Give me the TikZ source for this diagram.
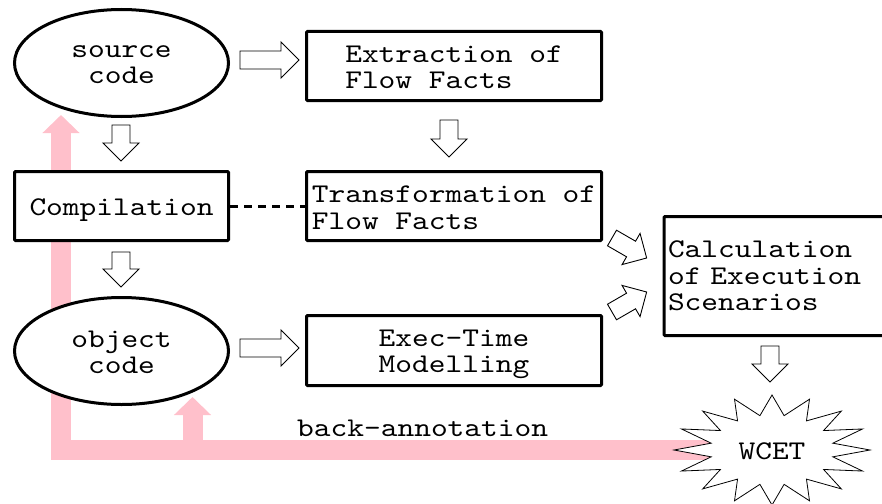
\documentclass[tikz,border=0pt]{standalone}
\usepackage{fontspec}
\newfontfamily\courfont[FakeStretch=1.18]{lmmono10-regular.otf}
\usetikzlibrary{arrows.meta,shapes.geometric}
\definecolor{pinkbar}{RGB}{255,192,203}
\newcommand{\lift}[1]{\rule{0pt}{#1pt}}
\tikzset{
  txt/.style={font=\courfont\fontsize{27}{26.5}\selectfont},
  box/.style={txt, draw, line width=3pt, fill=white, rounded corners=1pt, inner sep=0pt, align=left},
  oval/.style={txt, draw, ellipse, line width=3pt, fill=white, minimum width=214pt, minimum height=107pt, inner sep=0pt, align=center},
  hollow/.style={draw, line width=0.9pt, fill=white, line join=miter},
  back/.style={draw=pinkbar, line width=20pt, line join=miter, -{Triangle[width=36pt,length=18pt]}},
  starshape/.style={draw, line width=0.8pt, fill=white, line join=miter},
  dashline/.style={line width=3pt, dash pattern=on 8pt off 6pt},
}
\newcommand{\barrow}[3]{%
  \begin{scope}[shift={#1},rotate=#2]
    \draw[hollow] (0,9) -- ({#3-18},9) -- ({#3-18},18) -- (#3,0) -- ({#3-18},-18) -- ({#3-18},-9) -- (0,-9) -- cycle;
  \end{scope}}
\begin{document}
\begin{tikzpicture}[x=1pt,y=-1pt]
\useasboundingbox (0,0) rectangle (882,503);
% back-annotation bars
\coordinate (wc) at (772,450);
\coordinate (pcorner) at (61,450);
\coordinate (srctip) at (61,115);
\coordinate (pbranch) at (192.5,450);
\coordinate (objtip) at (192.5,397);
\draw[back] (wc) -- (pcorner) -- (srctip);
\draw[back] (pbranch) -- (objtip);
% nodes
\node[oval] (src) at (121.5,63) {\lift{15}source\\code};
\node[box, minimum width=295pt, minimum height=69pt] (ext) at (454,66) {\lift{19}Extraction of\\Flow Facts};
\node[box, minimum width=214pt, minimum height=69pt] (comp) at (121.5,206) {\lift{25}Compilation};
\node[box, minimum width=295pt, minimum height=69pt] (trans) at (454,206) {\lift{20}Transformation of\\Flow Facts};
\node[oval] (obj) at (121.5,351) {\lift{19}object\\code};
\node[box, align=center, minimum width=295pt, minimum height=70pt] (exec) at (454,350.5) {\lift{24}Exec-Time\\Modelling};
\node[box, anchor=west, text width=217pt, inner xsep=4pt, minimum height=119pt] (calc) at (662.5,276) {Calculation\\of Execution\\Scenarios};
% star
\begin{scope}[shift={(wc)}]
  \draw[starshape] (98,0)
    \foreach \i [evaluate=\i as \rx using {mod(\i,2)==0?98:62}, evaluate=\i as \ry using {mod(\i,2)==0?55:35}] in {1,...,31} { -- ({\rx*cos(\i*11.25)},{\ry*sin(\i*11.25)}) } -- cycle;
\end{scope}
\node[txt] (wcet) at (wc) {\lift{20}WCET};
\node[txt, anchor=base west, inner sep=0pt] (backlbl) at (297,436) {back-annotation};
% connectors
\draw[dashline] (comp.east) -- (trans.west);
\barrow{(240,60)}{0}{59}
\barrow{(240,348)}{0}{59}
\barrow{(121,125)}{-90}{36}
\barrow{(121,252)}{-90}{35}
\barrow{(449,120)}{-90}{37}
\barrow{(770,346)}{-90}{36}
\barrow{(612,238)}{-30}{40}
\barrow{(612,312)}{30}{40}
\end{tikzpicture}
\end{document}
